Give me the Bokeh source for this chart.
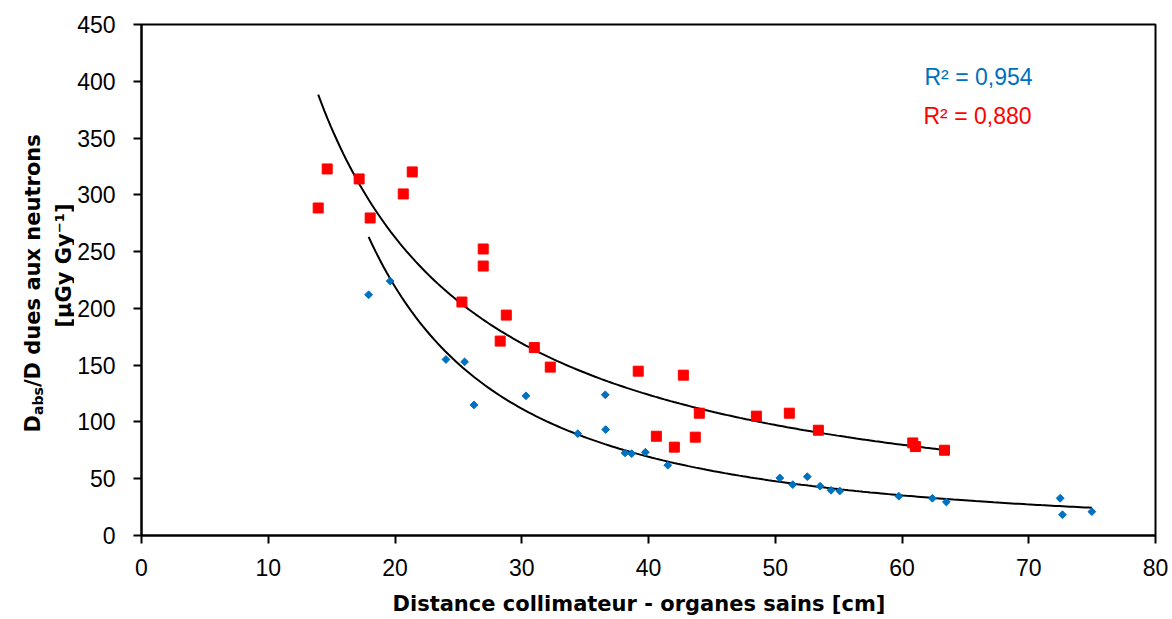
import numpy as np
from bokeh.plotting import figure
from bokeh.layouts import row
from bokeh.models import Range1d, FixedTicker, Label, Title
from bokeh.embed import file_html
from bokeh.resources import INLINE

# ---- data ----
blue_x = [17.92, 19.62, 24.02, 25.49, 26.23, 30.33, 34.42, 36.59, 36.62, 38.15, 38.67,
          39.75, 41.52, 50.36, 51.38, 52.53, 53.54, 54.40, 55.09, 59.75, 62.40, 63.50,
          72.48, 72.66, 74.98]
blue_y = [212.0, 224.1, 155.0, 152.9, 115.0, 123.0, 89.7, 123.9, 93.3, 72.7, 72.1,
          73.3, 61.9, 50.7, 44.8, 51.8, 43.4, 39.8, 39.2, 34.6, 32.8, 29.5,
          32.8, 18.3, 21.0]
red_x = [13.94, 14.65, 17.17, 18.04, 20.65, 21.36, 25.28, 26.96, 26.96, 28.78, 28.30,
         30.99, 32.25, 39.19, 42.75, 44.01, 40.62, 42.04, 43.69, 48.51, 51.11, 53.40,
         60.85, 61.06, 63.35]
red_y = [288.4, 322.8, 314.0, 279.6, 300.8, 320.2, 205.6, 252.3, 237.3, 194.1, 171.2,
         165.5, 148.3, 144.7, 141.2, 107.7, 87.4, 77.8, 86.6, 105.1, 107.7, 92.7,
         81.5, 78.3, 75.1]
x_ticks = [0, 10, 20, 30, 40, 50, 60, 70, 80]
y_ticks = [0, 50, 100, 150, 200, 250, 300, 350, 400, 450]
r2_blue = "R² = 0,954"
r2_red = "R² = 0,880"
x_title = "Distance collimateur - organes sains [cm]"
y_title_main = "D"
y_title_sub = "abs"
y_title_rest = "/D dues aux neutrons"
y_title_line2 = "[µGy Gy⁻¹]"

BLUE = "#0070C0"
RED = "#FF0000"

TOTAL_W, TOTAL_H = 1172, 619
YT_W = 74                      # width of the strip holding the y title
W = TOTAL_W - YT_W
H = TOTAL_H
FRAME_L, FRAME_R, FRAME_T, FRAME_B = 141, 1155, 24, 535   # page pixels
BL = FRAME_L - YT_W
BR = TOTAL_W - FRAME_R
BT = FRAME_T
BB = TOTAL_H - FRAME_B
SX = (FRAME_R - FRAME_L) / 80.0
SY = (FRAME_B - FRAME_T) / 450.0


def dx(px):
    return (px - FRAME_L) / SX


def dy(py):
    return (FRAME_B - py) / SY


p = figure(width=W, height=H, output_backend="svg", toolbar_location=None,
           x_range=Range1d(0, 80), y_range=Range1d(0, 450),
           min_border_left=BL, min_border_right=BR, min_border_top=BT, min_border_bottom=BB)
p.grid.visible = False
p.outline_line_color = "black"
p.outline_line_width = 2
p.background_fill_color = "white"
p.border_fill_color = "white"

for ax in (p.xaxis[0], p.yaxis[0]):
    ax.axis_line_width = 2
    ax.axis_line_color = "black"
    ax.major_tick_line_width = 2
    ax.major_tick_line_color = "black"
    ax.major_tick_out = 8
    ax.major_tick_in = 0
    ax.minor_tick_line_color = None
    ax.major_label_text_font = "Liberation Sans"
    ax.major_label_text_font_size = "23px"
    ax.major_label_text_color = "black"

p.xaxis.ticker = FixedTicker(ticks=x_ticks)
p.yaxis.ticker = FixedTicker(ticks=y_ticks)
p.xaxis.major_label_standoff = 15
p.yaxis.major_label_standoff = 18

# a thin blank band below the axis, then the x title aligned from the frame's left edge
p.add_layout(Title(text=" ", text_font_size="1px", standoff=8), "below")
p.add_layout(Title(text=x_title, align="left", offset=392 - FRAME_L,
                   text_font="DejaVu Sans", text_font_style="bold", text_font_size="21px",
                   text_color="black", standoff=0), "below")

# power-law trend lines (least squares in log-log space, as Excel does)
for xs, ys in ((blue_x, blue_y), (red_x, red_y)):
    lx, ly = np.log(xs), np.log(ys)
    b, lna = np.polyfit(lx, ly, 1)
    xx = np.linspace(min(xs), max(xs), 200)
    p.line(xx, np.exp(lna) * xx ** b, line_color="black", line_width=2)

p.scatter(blue_x, blue_y, marker="square", angle=np.pi / 4, size=5.5,
          fill_color=BLUE, line_color=BLUE)
p.scatter(red_x, red_y, marker="square", size=10, fill_color=RED, line_color=RED)

# R² annotations
p.add_layout(Label(x=dx(924), y=dy(76), text=r2_blue, text_color=BLUE,
                   text_font="Liberation Sans", text_font_size="23px",
                   text_align="left", text_baseline="alphabetic"))
p.add_layout(Label(x=dx(923), y=dy(115), text=r2_red, text_color=RED,
                   text_font="Liberation Sans", text_font_size="23px",
                   text_align="left", text_baseline="alphabetic"))

# ---- y title strip; its frame is aligned with the main frame (page y 24..535),
# so the ranges are set for data coordinates == page pixels ----
yt = figure(width=YT_W, height=H, output_backend="svg", toolbar_location=None,
            x_range=Range1d(0, YT_W), y_range=Range1d(FRAME_B, FRAME_T),
            min_border_left=0, min_border_right=0, min_border_top=BT, min_border_bottom=BB)
yt.axis.visible = False
yt.grid.visible = False
yt.outline_line_color = None
yt.background_fill_color = "white"
yt.border_fill_color = "white"

F1, F2 = 21, 14
y_start = 432
wD = 0.83 * F1
wabs = 2.0 * F2
common = dict(angle=np.pi / 2, text_color="black", text_font="DejaVu Sans",
              text_font_style="bold", text_align="left", text_baseline="alphabetic")
yt.add_layout(Label(x=32, y=y_start, text=y_title_main, text_font_size=f"{F1}px", **common))
yt.add_layout(Label(x=37, y=y_start - wD, text=y_title_sub, text_font_size=f"{F2}px", **common))
yt.add_layout(Label(x=32, y=y_start - wD - wabs, text=y_title_rest,
                    text_font_size=f"{F1}px", **common))
common2 = dict(common)
common2["text_align"] = "center"
yt.add_layout(Label(x=63, y=265, text=y_title_line2, text_font_size=f"{F1}px", **common2))

layout = row(yt, p, spacing=0)
open("out.html", "w").write(file_html(layout, INLINE))
